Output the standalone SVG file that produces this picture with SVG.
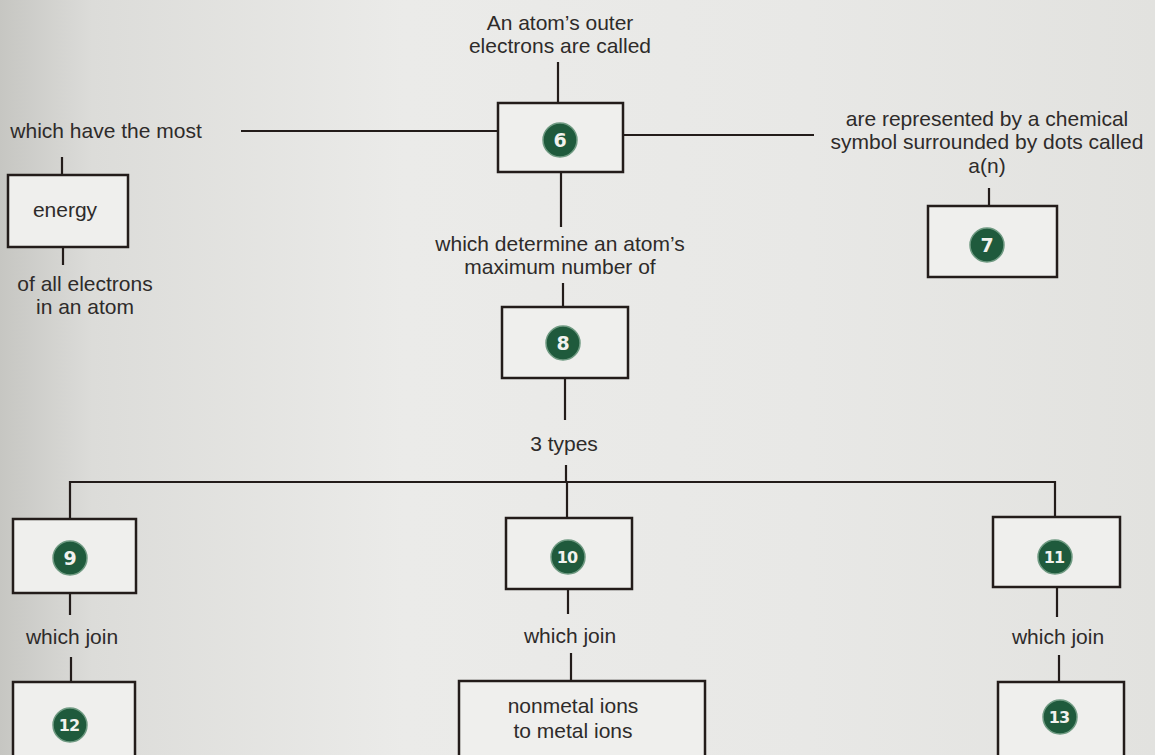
<svg xmlns="http://www.w3.org/2000/svg" width="1155" height="755" viewBox="0 0 1155 755">
<defs>
<linearGradient id="bg" x1="0" y1="0" x2="1" y2="0">
<stop offset="0" stop-color="#c6c6c2"/>
<stop offset="0.08" stop-color="#dcdcd9"/>
<stop offset="0.35" stop-color="#ebebe9"/>
<stop offset="0.7" stop-color="#e8e8e6"/>
<stop offset="1" stop-color="#e2e2df"/>
</linearGradient>
<style>
.t{font-family:"Liberation Sans","DejaVu Sans",sans-serif;font-size:21px;fill:#2e2b2a;text-anchor:middle}
.b{fill:#efefed;stroke:#231c1a;stroke-width:2.5}
.c{stroke:#231c1a;stroke-width:2.2;fill:none}
.n circle{fill:#1f5a3c;stroke:#6f9a82;stroke-width:1.5}
.n text{font-family:"DejaVu Sans","Liberation Sans",sans-serif;font-weight:bold;font-size:19px;fill:#f2f2ee;text-anchor:middle}
.n text.d{font-size:16px;letter-spacing:-1px}
</style>
</defs>
<rect width="1155" height="755" fill="url(#bg)"/>
<g id="connectors">
<path class="c" d="M558 62V103"/>
<path class="c" d="M241 131H498"/>
<path class="c" d="M623 135H814"/>
<path class="c" d="M561 172V227"/>
<path class="c" d="M563 283V307"/>
<path class="c" d="M565 378V420"/>
<path class="c" d="M566 465V483"/>
<path class="c" d="M70 519V482H1055V517"/>
<path class="c" d="M567 482V518"/>
<path class="c" d="M62 157V175"/>
<path class="c" d="M63 247V265"/>
<path class="c" d="M989 188V206"/>
<path class="c" d="M70 593V615"/>
<path class="c" d="M71 657V683"/>
<path class="c" d="M568 589V614"/>
<path class="c" d="M571 653V681"/>
<path class="c" d="M1057 587V617"/>
<path class="c" d="M1059 655V682"/>
</g>
<g id="labels">
<text class="t" x="560" y="30">An atom’s outer</text>
<text class="t" x="560" y="53">electrons are called</text>
<text class="t" x="106" y="138">which have the most</text>
<text class="t" x="987" y="126">are represented by a chemical</text>
<text class="t" x="987" y="149">symbol surrounded by dots called</text>
<text class="t" x="987" y="173">a(n)</text>
<text class="t" x="560" y="251">which determine an atom’s</text>
<text class="t" x="560" y="274">maximum number of</text>
<text class="t" x="85" y="291">of all electrons</text>
<text class="t" x="85" y="314">in an atom</text>
<text class="t" x="564" y="451">3 types</text>
<text class="t" x="72" y="644">which join</text>
<text class="t" x="570" y="643">which join</text>
<text class="t" x="1058" y="644">which join</text>
</g>
<g id="node-6"><rect class="b" x="498" y="103" width="125" height="69"/><g class="n"><circle cx="560" cy="140" r="17"/><text x="560" y="147">6</text></g></g>
<g id="node-energy"><rect class="b" x="8" y="175" width="120" height="72"/><text class="t" x="65" y="217">energy</text></g>
<g id="node-7"><rect class="b" x="928" y="206" width="129" height="71"/><g class="n"><circle cx="987" cy="245" r="17"/><text x="987" y="252">7</text></g></g>
<g id="node-8"><rect class="b" x="502" y="307" width="126" height="71"/><g class="n"><circle cx="563" cy="343" r="17"/><text x="563" y="350">8</text></g></g>
<g id="node-9"><rect class="b" x="13" y="519" width="123" height="74"/><g class="n"><circle cx="70" cy="558" r="17"/><text x="70" y="565">9</text></g></g>
<g id="node-10"><rect class="b" x="506" y="518" width="126" height="71"/><g class="n"><circle cx="568" cy="557" r="17"/><text class="d" x="567" y="563">10</text></g></g>
<g id="node-11"><rect class="b" x="993" y="517" width="127" height="70"/><g class="n"><circle cx="1055" cy="557" r="17"/><text class="d" x="1054" y="563">11</text></g></g>
<g id="node-12"><rect class="b" x="13" y="682" width="122" height="80"/><g class="n"><circle cx="70" cy="725" r="17"/><text class="d" x="69" y="731">12</text></g></g>
<g id="node-ions"><rect class="b" x="459" y="681" width="246" height="80"/><text class="t" x="573" y="713">nonmetal ions</text><text class="t" x="573" y="738">to metal ions</text></g>
<g id="node-13"><rect class="b" x="998" y="682" width="126" height="80"/><g class="n"><circle cx="1060" cy="717" r="17"/><text class="d" x="1059" y="723">13</text></g></g>
</svg>
